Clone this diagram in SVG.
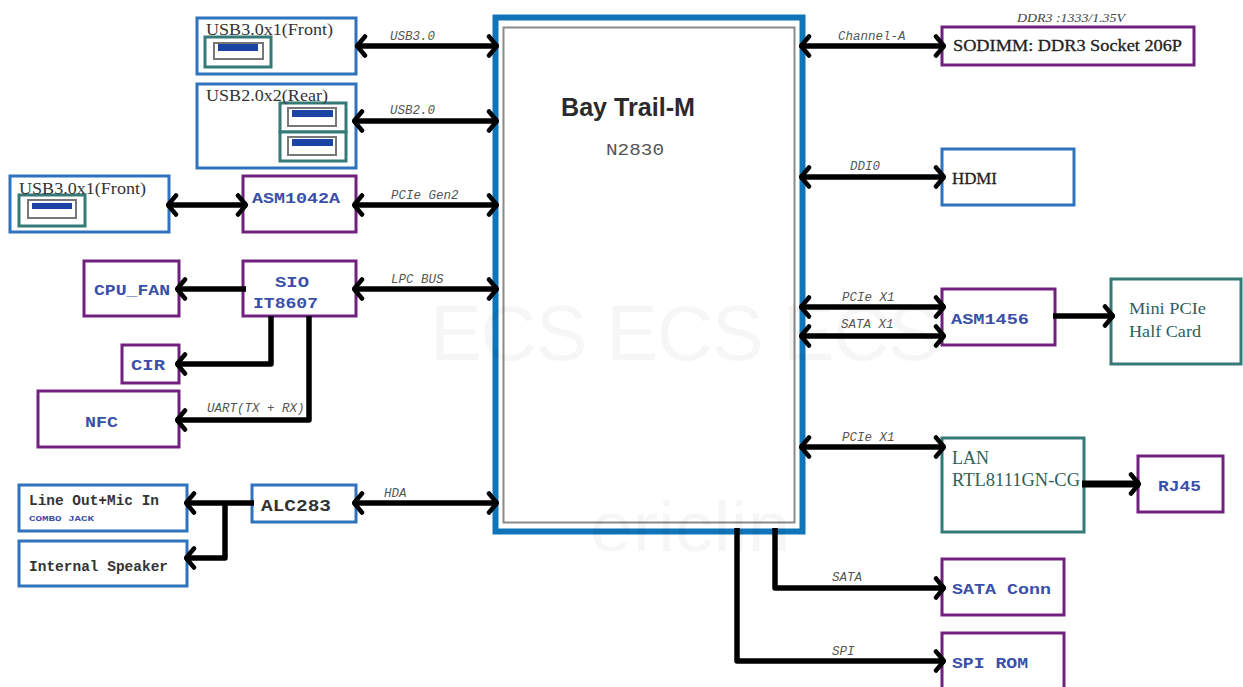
<svg xmlns="http://www.w3.org/2000/svg" width="1243" height="687" viewBox="0 0 1243 687">
<style>
text{white-space:pre}
.box{fill:#fff;stroke-width:3}
.b{stroke:#2f72bd}.p{stroke:#72207f}.g{stroke:#347b78}
.m{font:bold 15px "Liberation Mono",monospace;fill:#3b4fa8}
.k{font:bold 14px "Liberation Mono",monospace;fill:#333}
.t{font:17.500px "Liberation Serif",serif;fill:#333}
.g2{fill:#2f5f58}
.l{font:italic 12.500px "Liberation Mono",monospace;fill:#555}
.c{fill:none;stroke:#000;stroke-width:5.500;stroke-linejoin:round}
.w{font:78px "Liberation Sans",sans-serif;fill:#000;fill-opacity:.035}
.us{fill:#fff;stroke:#347b78;stroke-width:3}
.ui{fill:#fff;stroke:#777;stroke-width:2}
.ub{fill:#1a45a5}
</style>
<defs>
<marker id="ah" viewBox="0 0 16 24" refX="15" refY="12" markerWidth="16" markerHeight="24" markerUnits="userSpaceOnUse" orient="auto-start-reverse"><path d="M6 2.500 L14 12 L6 21.500" fill="none" stroke="#000" stroke-width="4.500" stroke-linejoin="round" stroke-linecap="round"/></marker>
</defs>
<rect width="1243" height="687" fill="#fff"/>
<g id="bay-trail">
<rect x="495.500" y="17.500" width="307" height="514" fill="#fff" stroke="#0f75b8" stroke-width="6"/>
<rect x="503.500" y="27.500" width="291" height="495" fill="#fff" stroke="#8a8a8a" stroke-width="2"/>
<text x="561" y="116" style="font:bold 25px 'Liberation Sans',sans-serif;fill:#2b2b2b" textLength="134" lengthAdjust="spacingAndGlyphs">Bay Trail-M</text>
<text x="606" y="155" style="font:16px 'Liberation Mono',monospace;fill:#555" textLength="58" lengthAdjust="spacingAndGlyphs">N2830</text>
</g>
<g id="usb30-front-top"><rect class="box b" x="197" y="18" width="159" height="56"/>
<rect class="us" x="205" y="37" width="66" height="30"/><rect class="ui" x="214" y="43" width="49" height="16"/><rect class="ub" x="218" y="44" width="40" height="7"/><text class="t" x="206" y="35" textLength="127" lengthAdjust="spacingAndGlyphs">USB3.0x1(Front)</text></g>
<g id="usb20-rear"><rect class="box b" x="197" y="84" width="159" height="84"/>
<rect class="us" x="280" y="103" width="66" height="29"/><rect class="ui" x="288" y="108" width="48" height="18"/><rect class="ub" x="292" y="110" width="41" height="7"/>
<rect class="us" x="280" y="132" width="66" height="29"/><rect class="ui" x="288" y="137" width="48" height="18"/><rect class="ub" x="292" y="139" width="41" height="7"/><text class="t" x="206" y="101" textLength="122" lengthAdjust="spacingAndGlyphs">USB2.0x2(Rear)</text></g>
<g id="usb30-front-left"><rect class="box b" x="10" y="176" width="159" height="56"/>
<rect class="us" x="19" y="195" width="66" height="31"/><rect class="ui" x="28" y="200" width="48" height="18"/><rect class="ub" x="32" y="203" width="40" height="6"/><text class="t" x="19" y="194" textLength="127" lengthAdjust="spacingAndGlyphs">USB3.0x1(Front)</text></g>
<g id="asm1042a"><rect class="box p" x="243" y="176" width="113" height="56"/><text class="m" x="252" y="203" textLength="88" lengthAdjust="spacingAndGlyphs">ASM1042A</text></g>
<g id="cpu-fan"><rect class="box p" x="84" y="261" width="95" height="55"/><text class="m" x="94" y="295" textLength="76" lengthAdjust="spacingAndGlyphs">CPU_FAN</text></g>
<g id="sio"><rect class="box p" x="243" y="261" width="113" height="55"/><text class="m" x="275" y="287" textLength="34" lengthAdjust="spacingAndGlyphs">SIO</text><text class="m" x="253" y="308" textLength="65" lengthAdjust="spacingAndGlyphs">IT8607</text></g>
<g id="cir"><rect class="box p" x="122" y="345" width="57" height="38"/><text class="m" x="131" y="370" textLength="34" lengthAdjust="spacingAndGlyphs">CIR</text></g>
<g id="nfc"><rect class="box p" x="38" y="391" width="141" height="56"/><text class="m" x="85" y="427" textLength="33" lengthAdjust="spacingAndGlyphs">NFC</text></g>
<g id="line-out"><rect class="box b" x="19" y="485" width="168" height="46"/><text class="k" x="29" y="505" textLength="130" lengthAdjust="spacingAndGlyphs">Line Out+Mic In</text><text x="29" y="521" style="font:bold 8px 'Liberation Mono',monospace;fill:#3b4fa8" textLength="65" lengthAdjust="spacingAndGlyphs">COMBO JACK</text></g>
<g id="speaker"><rect class="box b" x="19" y="541" width="168" height="45"/><text class="k" x="29" y="571" textLength="139" lengthAdjust="spacingAndGlyphs">Internal Speaker</text></g>
<g id="alc283"><rect class="box b" x="252" y="485" width="104" height="37"/><text x="261" y="511" style="font:bold 16px 'Liberation Mono',monospace;fill:#333" textLength="70" lengthAdjust="spacingAndGlyphs">ALC283</text></g>
<g id="sodimm"><rect class="box p" x="942" y="27" width="252" height="38"/><text x="953" y="51" style="font:17px 'Liberation Serif',serif;fill:#222;stroke:#222;stroke-width:.3" textLength="229" lengthAdjust="spacingAndGlyphs">SODIMM: DDR3 Socket 206P</text></g>
<text x="1017" y="22" style="font:italic 13.500px 'Liberation Serif',serif;fill:#444" textLength="108" lengthAdjust="spacingAndGlyphs">DDR3 :1333/1.35V</text>
<g id="hdmi"><rect class="box b" x="942" y="149" width="132" height="56"/><text x="952" y="184" style="font:16px 'Liberation Serif',serif;fill:#222;stroke:#222;stroke-width:.3" textLength="45" lengthAdjust="spacingAndGlyphs">HDMI</text></g>
<g id="asm1456"><rect class="box p" x="942" y="289" width="113" height="56"/><text class="m" x="951" y="324" textLength="78" lengthAdjust="spacingAndGlyphs">ASM1456</text></g>
<g id="mini-pcie"><rect class="box g" x="1111" y="279" width="130" height="85"/><text class="t g2" x="1129" y="314" textLength="77" lengthAdjust="spacingAndGlyphs">Mini PCIe</text><text class="t g2" x="1129" y="337" textLength="72" lengthAdjust="spacingAndGlyphs">Half Card</text></g>
<g id="lan"><rect class="box g" x="942" y="438" width="142" height="94"/><text class="t g2" x="952" y="464" style="font-size:19px" textLength="37" lengthAdjust="spacingAndGlyphs">LAN</text><text class="t g2" x="952" y="486" style="font-size:18px" textLength="128" lengthAdjust="spacingAndGlyphs">RTL8111GN-CG</text></g>
<g id="rj45"><rect class="box p" x="1138" y="456" width="85" height="56"/><text class="m" x="1158" y="491" textLength="43" lengthAdjust="spacingAndGlyphs">RJ45</text></g>
<g id="sata-conn"><rect class="box p" x="942" y="559" width="122" height="56"/><text class="m" x="952" y="594" textLength="99" lengthAdjust="spacingAndGlyphs">SATA Conn</text></g>
<g id="spi-rom"><rect class="box p" x="942" y="633" width="122" height="60"/><text class="m" x="952" y="668" textLength="76" lengthAdjust="spacingAndGlyphs">SPI ROM</text></g>
<g id="connectors">
<path class="c" marker-start="url(#ah)" marker-end="url(#ah)" d="M356 46H498"/>
<path class="c" marker-start="url(#ah)" marker-end="url(#ah)" d="M353 121H498"/>
<path class="c" marker-start="url(#ah)" marker-end="url(#ah)" d="M167 205H247"/>
<path class="c" marker-start="url(#ah)" marker-end="url(#ah)" d="M353 205H498"/>
<path class="c" marker-start="url(#ah)" marker-end="url(#ah)" d="M353 289H498"/>
<path class="c" marker-end="url(#ah)" d="M246 289H176"/>
<path class="c" marker-end="url(#ah)" d="M271 316V364H176"/>
<path class="c" marker-end="url(#ah)" d="M309 316V420H176"/>
<path class="c" marker-start="url(#ah)" marker-end="url(#ah)" d="M353 503H498"/>
<path class="c" marker-end="url(#ah)" d="M254 503H185"/>
<path class="c" marker-end="url(#ah)" d="M225 503V558H185"/>
<path class="c" marker-start="url(#ah)" marker-end="url(#ah)" d="M800 46H945"/>
<path class="c" marker-start="url(#ah)" marker-end="url(#ah)" d="M800 177H945"/>
<path class="c" marker-start="url(#ah)" marker-end="url(#ah)" d="M800 307H945"/>
<path class="c" marker-start="url(#ah)" marker-end="url(#ah)" d="M800 336H945"/>
<path class="c" marker-end="url(#ah)" d="M1053 316H1114"/>
<path class="c" marker-start="url(#ah)" marker-end="url(#ah)" d="M800 447H945"/>
<path class="c" style="stroke-width:7" marker-end="url(#ah)" d="M1082 484H1140"/>
<path class="c" marker-end="url(#ah)" d="M775 528V588H945"/>
<path class="c" marker-end="url(#ah)" d="M737 528V661H945"/>
</g>
<g id="connector-labels">
<text class="l" x="390" y="40">USB3.0</text><text class="l" x="390" y="114">USB2.0</text><text class="l" x="391" y="199">PCIe Gen2</text><text class="l" x="391" y="283">LPC BUS</text><text class="l" x="207" y="412">UART(TX + RX)</text><text class="l" x="384" y="497">HDA</text>
<text class="l" x="838" y="40">Channel-A</text><text class="l" x="850" y="170">DDI0</text><text class="l" x="842" y="301">PCIe X1</text><text class="l" x="841" y="328">SATA X1</text><text class="l" x="842" y="441">PCIe X1</text><text class="l" x="832" y="581">SATA</text><text class="l" x="832" y="655">SPI</text>
</g>
<g id="watermarks"><text class="w" x="430" y="360" textLength="510" lengthAdjust="spacing">ECS ECS ECS</text><text class="w" x="590" y="551" style="font-size:70px" textLength="200" lengthAdjust="spacingAndGlyphs">ericlin</text></g>
</svg>
